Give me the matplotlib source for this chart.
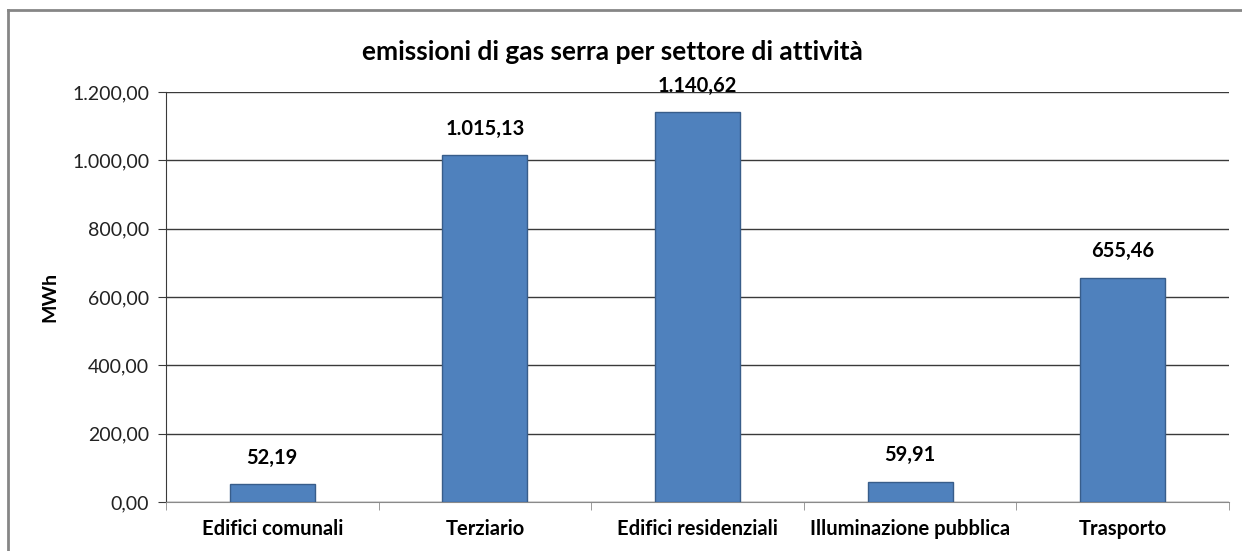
import matplotlib
matplotlib.use("Agg")
import matplotlib.pyplot as plt
from matplotlib.lines import Line2D
from matplotlib.ticker import FuncFormatter

categories = ["Edifici comunali", "Terziario", "Edifici residenziali", "Illuminazione pubblica", "Trasporto"]
values = [52.19, 1015.13, 1140.62, 59.91, 655.46]
yticks = [0, 200, 400, 600, 800, 1000, 1200]
title = "emissioni di gas serra per settore di attività"
ylabel = "MWh"

plt.rcParams['font.family'] = ['Lato', 'DejaVu Sans']

def it_fmt(v, pos=None):
    s = f"{v:,.2f}"
    return s.replace(",", "X").replace(".", ",").replace("X", ".")

W, H = 1242, 551
fig = plt.figure(figsize=(W/100, H/100), dpi=100)
fig.patch.set_facecolor("white")

# outer chart frame
fx, fy = 8/W, 1 - 10/H
fig.add_artist(Line2D([fx, fx], [0, fy], transform=fig.transFigure, color="#868686", lw=2))
fig.add_artist(Line2D([fx, 1], [fy, fy], transform=fig.transFigure, color="#868686", lw=2))

left, right = 166/W, 1229/W
bottom, top = 1 - 502/H, 1 - 92/H
ax = fig.add_axes([left, bottom, right-left, top-bottom])

x = list(range(len(categories)))
ax.bar(x, values, width=0.4, color="#4F81BD", edgecolor="#385D8A", linewidth=1, zorder=3)
ax.set_xlim(-0.5, len(categories)-0.5)
ax.set_ylim(0, 1200)
ax.set_yticks(yticks)
ax.yaxis.set_major_formatter(FuncFormatter(it_fmt))
ax.grid(axis="y", color="#3a3a3a", lw=1, zorder=0)
ax.set_axisbelow(True)

for s in ["top", "right"]:
    ax.spines[s].set_visible(False)
ax.spines["left"].set_color("#3a3a3a")
ax.spines["bottom"].set_color("#8a8a8a")

ax.set_xticks(x)
ax.set_xticklabels(categories, fontsize=14.5, fontweight="bold")
ax.set_xticks([i + 0.5 for i in range(-1, len(categories))], minor=True)
ax.tick_params(axis="x", which="major", length=0, pad=12)
ax.tick_params(axis="x", which="minor", length=6, color="#8a8a8a", direction="out")
ax.tick_params(axis="y", length=6, color="#3a3a3a", labelsize=14, pad=6, labelcolor="#222222")

for xi, v in zip(x, values):
    ax.annotate(it_fmt(v), (xi, v), xytext=(0, 12), textcoords="offset points",
                ha="center", va="bottom", fontsize=14.5, fontweight="bold")

fig.text(50/W, 1 - 297/H, ylabel, rotation=90, ha="center", va="center", fontsize=14, fontweight="bold")
fig.text(612/W, 1 - 52/H, title, ha="center", va="center", fontsize=19, fontweight="bold")

fig.savefig("out.png", dpi=100)
